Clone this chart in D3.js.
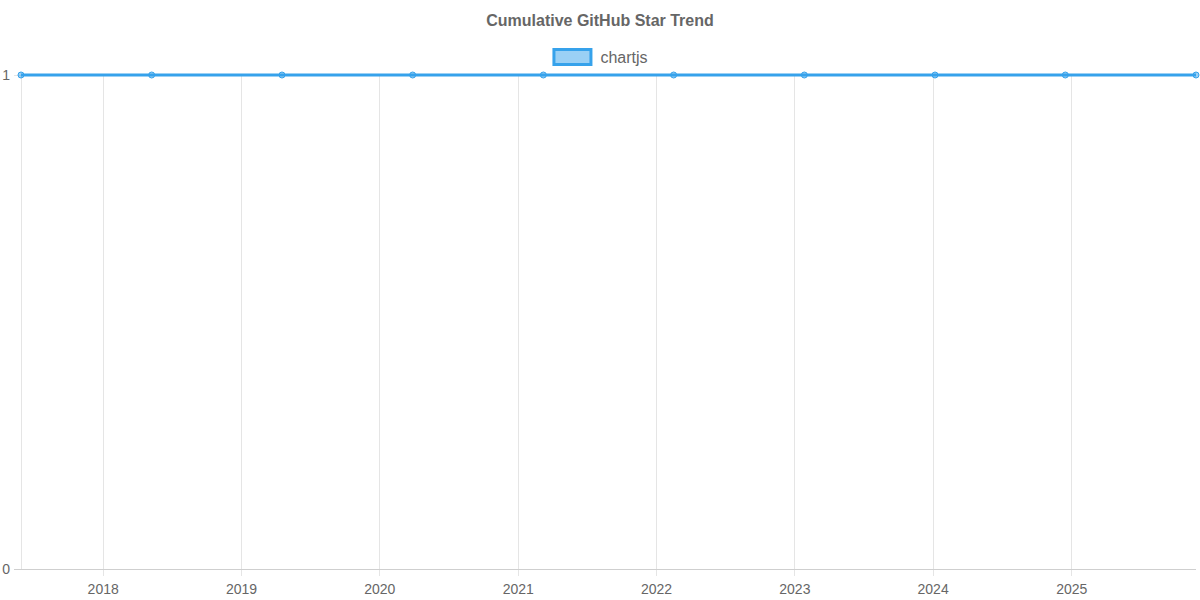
<!DOCTYPE html>
<html><head><meta charset="utf-8">
<script src="https://cdn.jsdelivr.net/npm/d3@7"></script>
<style>body{margin:0;background:#fff}svg{display:block}text{font-family:"Liberation Sans",Arial,Helvetica,sans-serif}</style>
</head><body>
<svg id="c" width="1200" height="600"></svg>
<script>
const title = "Cumulative GitHub Star Trend";
const seriesName = "chartjs";
const dates = ["2017-05-29","2018-05-09","2019-04-18","2020-03-28","2021-03-08","2022-02-15","2023-01-26","2024-01-06","2024-12-15","2025-11-25"];
const stars = [1,1,1,1,1,1,1,1,1,1];
const yTicks = [0,1];
const xTickYears = [2018,2019,2020,2021,2022,2023,2024,2025];

const parse = d3.utcParse("%Y-%m-%d");
const data = dates.map((d,i)=>({t:parse(d), v:stars[i]}));
const svg = d3.select("#c");
const L=21, R=1196, T=75, B=569;
const x = d3.scaleUtc().domain(d3.extent(data,d=>d.t)).range([L,R]);
const y = d3.scaleLinear().domain([0,1]).range([B,T]);
const grid = "#e5e5e5";

// vertical grid
const xt = xTickYears.map(yr=>new Date(Date.UTC(yr,0,1)));
svg.append("g").selectAll("line").data(xt).join("line")
  .attr("x1",d=>x(d)).attr("x2",d=>x(d)).attr("y1",T).attr("y2",B+7)
  .attr("stroke",grid).attr("stroke-width",1).attr("shape-rendering","crispEdges");
// left border
svg.append("line").attr("x1",L).attr("x2",L).attr("y1",T).attr("y2",B)
  .attr("stroke",grid).attr("shape-rendering","crispEdges");
// horizontal grid
svg.append("g").selectAll("line").data(yTicks).join("line")
  .attr("x1",L-7).attr("x2",R).attr("y1",d=>y(d)).attr("y2",d=>y(d))
  .attr("stroke",d=>d===0?"#cfcfcf":grid).attr("shape-rendering","crispEdges");

// y labels
svg.append("g").selectAll("text").data(yTicks).join("text")
  .attr("x",L-11).attr("y",d=>y(d)).attr("dy","0.35em").attr("text-anchor","end")
  .attr("font-size",14).attr("fill","#666").text(d=>d);
// x labels
svg.append("g").selectAll("text").data(xt).join("text")
  .attr("x",d=>x(d)).attr("y",589).attr("dy","0.35em").attr("text-anchor","middle")
  .attr("font-size",14).attr("fill","#666").text(d=>d3.utcFormat("%Y")(d));

// line
svg.append("path").datum(data)
  .attr("d",d3.line().x(d=>x(d.t)).y(d=>y(d.v)))
  .attr("fill","none").attr("stroke","#36a2eb").attr("stroke-width",3);
svg.append("g").selectAll("circle").data(data).join("circle")
  .attr("cx",d=>x(d.t)).attr("cy",d=>y(d.v)).attr("r",3)
  .attr("fill","rgba(54,162,235,0.5)").attr("stroke","#36a2eb").attr("stroke-width",1);

// title
svg.append("text").attr("x",600).attr("y",20).attr("dy","0.35em").attr("text-anchor","middle")
  .attr("font-size",16).attr("font-weight","bold").attr("fill","#666").text(title);
// legend
const lg = svg.append("g");
const lt = lg.append("text").attr("y",57).attr("dy","0.35em").attr("font-size",16).attr("fill","#666").text(seriesName);
const tw = lt.node().getComputedTextLength();
const bw=40, gap=8, total=bw+gap+tw, sx=600-total/2;
lg.insert("rect","text").attr("x",sx+1.5).attr("y",49.5).attr("width",bw-3).attr("height",15)
  .attr("fill","rgba(54,162,235,0.5)").attr("stroke","#36a2eb").attr("stroke-width",3);
lt.attr("x",sx+bw+gap);
</script>
</body></html>
